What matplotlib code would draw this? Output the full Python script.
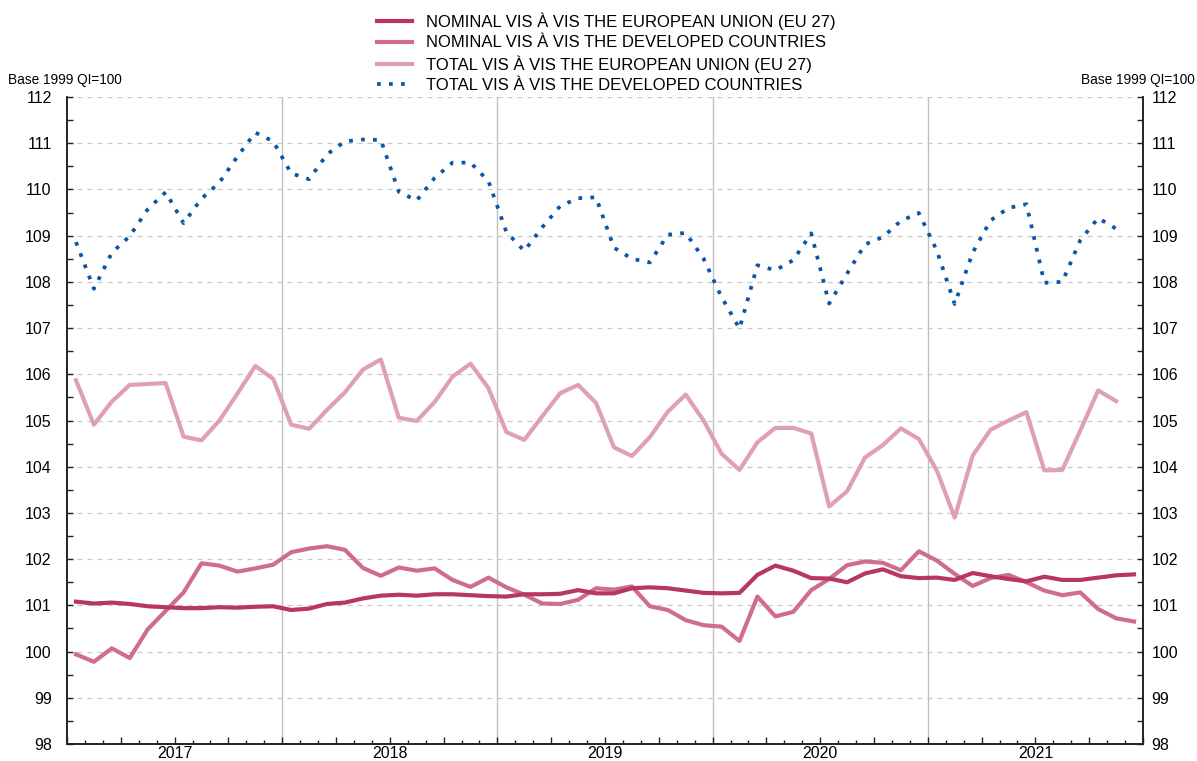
import matplotlib
matplotlib.use('Agg')
import matplotlib.pyplot as plt
from matplotlib.ticker import FixedLocator, MultipleLocator

plt.rcParams['font.family'] = ['Liberation Sans', 'DejaVu Sans']

# monthly data, Jan 2017 - Dec 2021
years = ['2017', '2018', '2019', '2020', '2021']

nominal_eu = [101.08, 101.04, 101.06, 101.03, 100.98, 100.96, 100.94, 100.94, 100.96, 100.95, 100.97, 100.98,
              100.90, 100.93, 101.03, 101.06, 101.15, 101.21, 101.23, 101.21, 101.24, 101.24, 101.22, 101.20,
              101.19, 101.24, 101.24, 101.25, 101.33, 101.26, 101.26, 101.37, 101.39, 101.37, 101.32, 101.27,
              101.26, 101.27, 101.66, 101.86, 101.75, 101.59, 101.58, 101.50, 101.69, 101.78, 101.63, 101.59,
              101.60, 101.55, 101.70, 101.63, 101.57, 101.52, 101.62, 101.55, 101.55, 101.60, 101.65, 101.67]

nominal_dev = [99.94, 99.78, 100.07, 99.86, 100.48, 100.88, 101.28, 101.91, 101.86, 101.73, 101.80, 101.88,
               102.15, 102.23, 102.28, 102.20, 101.81, 101.64, 101.82, 101.75, 101.80, 101.55, 101.40, 101.60,
               101.39, 101.23, 101.04, 101.03, 101.12, 101.37, 101.34, 101.41, 100.98, 100.90, 100.68, 100.57,
               100.54, 100.23, 101.19, 100.76, 100.86, 101.33, 101.57, 101.87, 101.95, 101.92, 101.76, 102.17,
               101.97, 101.68, 101.42, 101.59, 101.66, 101.50, 101.32, 101.22, 101.28, 100.92, 100.72, 100.65]

total_eu = [105.87, 104.91, 105.41, 105.77, 105.79, 105.81, 104.65, 104.57, 105.00, 105.58, 106.18, 105.90,
            104.91, 104.82, 105.23, 105.61, 106.10, 106.32, 105.06, 104.99, 105.40, 105.95, 106.23, 105.70,
            104.75, 104.58, 105.09, 105.59, 105.77, 105.38, 104.42, 104.23, 104.64, 105.19, 105.56, 105.00,
            104.28, 103.93, 104.53, 104.84, 104.84, 104.72, 103.14, 103.47, 104.20, 104.47, 104.83, 104.60,
            103.92, 102.90, 104.24, 104.80, 105.00, 105.18, 103.92, 103.93, 104.78, 105.65, 105.42]

total_dev = [108.86, 107.85, 108.63, 108.99, 109.57, 109.94, 109.27, 109.80, 110.15, 110.71, 111.23, 111.04,
             110.35, 110.22, 110.76, 111.04, 111.08, 111.07, 109.95, 109.76, 110.25, 110.58, 110.58, 110.18,
             109.08, 108.67, 109.18, 109.64, 109.81, 109.83, 108.74, 108.50, 108.42, 109.02, 109.06, 108.50,
             107.67, 106.99, 108.36, 108.25, 108.47, 109.05, 107.53, 108.18, 108.81, 108.97, 109.32, 109.49,
             108.68, 107.52, 108.63, 109.33, 109.60, 109.68, 107.98, 108.00, 108.90, 109.38, 109.15]

labels = ['NOMINAL VIS À VIS THE EUROPEAN UNION (EU 27)',
          'NOMINAL VIS À VIS THE DEVELOPED COUNTRIES',
          'TOTAL VIS À VIS THE EUROPEAN UNION (EU 27)',
          'TOTAL VIS À VIS THE DEVELOPED COUNTRIES']
colors = ['#b7375e', '#cf6e8c', '#e0a0b3', '#0b55a5']

fig = plt.figure(figsize=(11.97, 7.61), dpi=100)
ax = fig.add_axes([67 / 1197, 1 - 744 / 761, 1076 / 1197, 647 / 761])

handles = []
handles += ax.plot(range(len(nominal_eu)), nominal_eu, color=colors[0], lw=3, label=labels[0], zorder=5)
handles += ax.plot(range(len(nominal_dev)), nominal_dev, color=colors[1], lw=3, label=labels[1], zorder=4)
handles += ax.plot(range(len(total_eu)), total_eu, color=colors[2], lw=3, label=labels[2], zorder=3)
handles += ax.plot(range(len(total_dev)), total_dev, color=colors[3], lw=2.7, linestyle=(0, (1, 2.2)),
                   dash_capstyle='butt', label=labels[3], zorder=3)

ax.set_xlim(-0.5, 59.5)
ax.set_ylim(98, 112)

# grid
for v in range(99, 113):
    ax.axhline(v, color='#c8c8c8', lw=0.9, ls=(0, (4, 4)), zorder=0)
for k in range(1, len(years)):
    ax.axvline(12 * k - 0.5, color='#c0c0c0', lw=1, zorder=0)

# x ticks: months (minor), quarters (major), year labels in the middle
ax.xaxis.set_major_locator(FixedLocator([3 * q - 0.5 for q in range(21)]))
ax.xaxis.set_minor_locator(FixedLocator([m - 0.5 for m in range(61)]))
ax.set_xticklabels([])
for k, y in enumerate(years):
    ax.text(12 * k + 5.5, -0.003, y, transform=ax.get_xaxis_transform(), ha='center', va='top', fontsize=11.5)
ax.tick_params(axis='x', which='major', direction='in', length=5, width=1, color='#222222')
ax.tick_params(axis='x', which='minor', direction='in', length=3, width=1, color='#222222')

# left y axis
ax.yaxis.set_major_locator(MultipleLocator(1))
ax.yaxis.set_minor_locator(MultipleLocator(0.5))
ax.tick_params(axis='y', which='both', direction='in', length=4, width=1, color='#222222',
               labelsize=11.5, pad=11)

# right y axis
ax2 = ax.twinx()
ax2.set_ylim(98, 112)
ax2.yaxis.set_major_locator(MultipleLocator(1))
ax2.yaxis.set_minor_locator(MultipleLocator(0.5))
ax2.tick_params(axis='y', which='both', direction='in', length=4, width=1, color='#222222',
                labelsize=11.5, pad=6)

for a in (ax, ax2):
    a.spines['top'].set_visible(False)
    for side in ['left', 'right', 'bottom']:
        a.spines[side].set_color('#222222')
        a.spines[side].set_linewidth(1.2)

fig.text(8 / 1197, 1 - 80 / 761, 'Base 1999 QI=100', ha='left', va='center', fontsize=9.8)
fig.text(1195 / 1197, 1 - 80 / 761, 'Base 1999 QI=100', ha='right', va='center', fontsize=9.8)

fig.legend(handles=handles, loc='upper left', bbox_to_anchor=(370 / 1197, 1 - 6 / 761),
           frameon=False, fontsize=12, handlelength=2.1, handletextpad=0.85, labelspacing=0.31,
           borderaxespad=0)

fig.savefig('out.png', dpi=100)
